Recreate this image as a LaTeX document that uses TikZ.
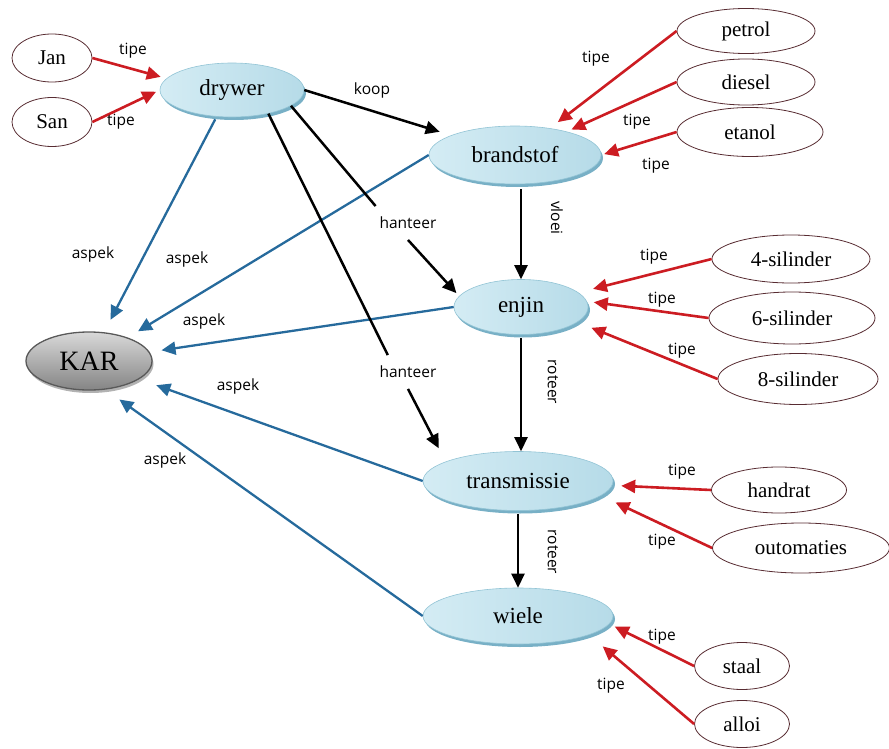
\documentclass[tikz,border=0pt]{standalone}
\usepackage{fontspec}
\setmainfont{Liberation Serif}
\newfontfamily\lblfont{Open Sans}
\usetikzlibrary{arrows.meta,shapes.geometric,shadows}

\definecolor{conceptlight}{RGB}{212,236,244}
\definecolor{conceptmid}{RGB}{182,219,232}
\definecolor{conceptrim}{RGB}{120,176,198}
\definecolor{conceptline}{RGB}{146,196,213}
\definecolor{aspekblue}{RGB}{38,106,156}
\definecolor{tipered}{RGB}{204,28,34}
\definecolor{optline}{RGB}{88,44,50}

\begin{document}
\begin{tikzpicture}[x=1pt,y=-1pt,
  concept/.style={ellipse, draw=conceptline, line width=0.6pt,
    left color=conceptlight, right color=conceptmid,
    drop shadow={shadow xshift=2pt, shadow yshift=-3pt, fill=conceptrim, opacity=1},
    inner sep=0pt, font=\fontsize{23}{26}\selectfont},
  rootnode/.style={ellipse, draw=black!65, line width=1.3pt,
    top color=black!15, bottom color=black!48,
    drop shadow={shadow xshift=1.5pt, shadow yshift=-3pt, fill=black!30, opacity=1},
    inner sep=0pt, font=\fontsize{28}{32}\selectfont},
  option/.style={ellipse, draw=optline, line width=0.8pt, fill=white,
    inner sep=0pt, font=\fontsize{21}{24}\selectfont},
  lbl/.style={font=\lblfont\fontsize{15.5}{17}\selectfont, inner sep=1pt},
  gaplbl/.style={lbl, inner xsep=4pt, inner ysep=11pt, outer sep=0pt},
  tipearrow/.style={draw=tipered, line width=2.6pt,
    -{Triangle[length=14pt,width=13pt]}},
  aspekarrow/.style={draw=aspekblue, line width=2.3pt,
    -{Triangle[length=14pt,width=13pt]}},
  relarrow/.style={draw=black, line width=2.5pt,
    -{Triangle[length=14pt,width=13pt]}},
  relline/.style={draw=black, line width=2.5pt}
]
\useasboundingbox (0,0) rectangle (889,749);

% --- concepts ---
\node[rootnode, minimum width=126pt, minimum height=58pt] (KAR) at (89,361) {KAR};
\node[concept, minimum width=144pt, minimum height=54pt] (drywer) at (232,90) {drywer};
\node[concept, minimum width=172pt, minimum height=58pt] (brandstof) at (515,155) {brandstof};
\node[concept, minimum width=134pt, minimum height=55pt] (enjin) at (521,307) {enjin};
\node[concept, minimum width=190pt, minimum height=59pt] (transmissie) at (518,481) {transmissie};
\node[concept, minimum width=190pt, minimum height=56pt] (wiele) at (518,616) {wiele};

% --- options ---
\node[option, minimum width=80pt, minimum height=48pt] (jan) at (52,58) {Jan};
\node[option, minimum width=80pt, minimum height=49pt] (san) at (52,122) {San};
\node[option, minimum width=138pt, minimum height=45pt] (petrol) at (746,31) {petrol};
\node[option, minimum width=138pt, minimum height=46pt] (diesel) at (746,82) {diesel};
\node[option, minimum width=146pt, minimum height=49pt] (etanol) at (750,132) {etanol};
\node[option, minimum width=158pt, minimum height=48pt] (sil4) at (791,259) {4-silinder};
\node[option, minimum width=166pt, minimum height=52pt] (sil6) at (792,318) {6-silinder};
\node[option, minimum width=160pt, minimum height=51pt] (sil8) at (798,379) {8-silinder};
\node[option, minimum width=135pt, minimum height=46pt] (handrat) at (779,490) {handrat};
\node[option, minimum width=177pt, minimum height=50pt] (outomaties) at (801,548) {outomaties};
\node[option, minimum width=95pt, minimum height=47pt] (staal) at (742,666) {staal};
\node[option, minimum width=95pt, minimum height=47pt] (alloi) at (742,724) {alloi};

% --- tipe links ---
\draw[tipearrow, shorten >=6pt] (jan.east) -- (drywer.170);
\draw[tipearrow, shorten >=4pt] (san.east) -- (drywer.west);
\draw[tipearrow, shorten >=10pt] (petrol.west) -- (brandstof);
\draw[tipearrow, shorten >=5pt] (diesel.west) -- (brandstof);
\draw[tipearrow, shorten >=3pt] (etanol.west) -- (brandstof.east);
\draw[tipearrow, shorten >=15pt] (sil4.west) -- (enjin);
\draw[tipearrow, shorten >=7pt] (sil6.west) -- (enjin.5);
\draw[tipearrow, shorten >=15pt] (sil8.west) -- (enjin.-15);
\draw[tipearrow, shorten >=9pt] (handrat.west) -- (transmissie);
\draw[tipearrow, shorten >=16pt] (outomaties.west) -- (transmissie.-10);
\draw[tipearrow, shorten >=6pt] (staal.west) -- (wiele.-5);
\draw[tipearrow, shorten >=90pt] (alloi.west) -- (wiele.60);

\node[lbl] (tJan) at (133,51) {tipe};
\node[lbl] (tSan) at (121,122) {tipe};
\node[lbl] (tPetrol) at (596,59) {tipe};
\node[lbl] (tDiesel) at (637,122) {tipe};
\node[lbl] (tEtanol) at (656,166) {tipe};
\node[lbl] (tSil4) at (654,257) {tipe};
\node[lbl] (tSil6) at (662,300) {tipe};
\node[lbl] (tSil8) at (682,351) {tipe};
\node[lbl] (tHandrat) at (682,472) {tipe};
\node[lbl] (tOuto) at (662,542) {tipe};
\node[lbl] (tStaal) at (662,637) {tipe};
\node[lbl] (tAlloi) at (611,686) {tipe};

% --- aspek links ---
\draw[aspekarrow, shorten <=3pt, shorten >=14pt] (drywer.-120) -- (KAR);
\draw[aspekarrow, shorten >=12pt] (brandstof.west) -- (KAR);
\draw[aspekarrow, shorten >=12pt] (enjin.west) -- (KAR);
\draw[aspekarrow, shorten >=18pt] (transmissie.west) -- (KAR);
\draw[aspekarrow, shorten >=17pt] (wiele.west) -- (KAR.-60);

\node[lbl] (a1) at (93,254) {aspek};
\node[lbl] (a2) at (187,259) {aspek};
\node[lbl] (a3) at (204,321) {aspek};
\node[lbl] (a4) at (238,386) {aspek};
\node[lbl] (a5) at (165,460) {aspek};

% --- relations between concepts ---
\draw[relarrow, shorten >=12pt] (drywer.east) -- (brandstof);
\node[lbl] (koop) at (372,90) {koop};

\node[gaplbl] (h1) at (408,223) {hanteer};
\node[gaplbl] (h2) at (408,372) {hanteer};
\draw[relline] (drywer.-15) -- (h1.north west);
\draw[relarrow, shorten >=4pt] (h1.south) -- (enjin.170);
\draw[relline] (drywer.-33) -- (h2.140);
\draw[relarrow, shorten >=15pt] (h2.south) -- (transmissie.165);

\draw[relarrow, shorten <=5pt] (brandstof.south -| enjin.north) -- (enjin.north);
\draw[relarrow, shorten <=3pt] (enjin.south) -- (enjin.south |- transmissie.north);
\draw[relarrow, shorten <=3pt] (transmissie.south) -- (wiele.north);

\node[lbl, rotate=-90] (vloei) at (557,218) {vloei};
\node[lbl, rotate=-90] (roteer1) at (553,382) {roteer};
\node[lbl, rotate=-90] (roteer2) at (553,552) {roteer};
\end{tikzpicture}
\end{document}
